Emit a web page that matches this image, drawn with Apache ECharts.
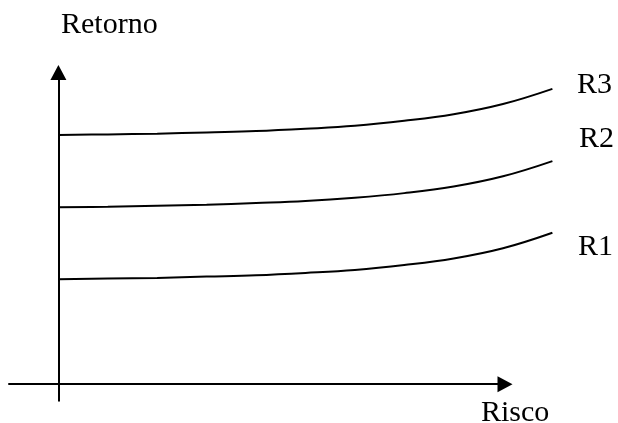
<!DOCTYPE html>
<html>
<head>
<meta charset="utf-8">
<script src="https://cdn.jsdelivr.net/npm/echarts@6/dist/echarts.min.js"></script>
<style>html,body{margin:0;padding:0;background:#fff}#c{width:618px;height:423px}</style>
</head>
<body>
<div id="c"></div>
<script>
// Risco (x) sample positions shared by the three curves
const risco = [0, 10, 20, 30, 40, 50, 60, 70, 80, 90, 100];
// Retorno (y) values
const r1 = [31.8, 32.0, 32.2, 32.6, 33.0, 33.7, 34.6, 36.1, 38.1, 41.2, 45.9];
const r2 = [53.6, 53.8, 54.1, 54.4, 54.9, 55.5, 56.5, 57.9, 59.9, 63.0, 67.6];
const r3 = [75.5, 75.7, 75.9, 76.3, 76.7, 77.4, 78.3, 79.8, 81.8, 84.9, 89.5];
const seriesNames = ['R1', 'R2', 'R3'];
const xTitle = 'Risco';
const yTitle = 'Retorno';

const FONT = '30px "Liberation Serif", "Times New Roman", serif';
const pair = (ys) => risco.map((x, i) => [x, ys[i]]);
const lineSeries = (name, ys) => ({
  name, type: 'line', data: pair(ys), smooth: 0.4, symbol: 'none',
  xAxisIndex: 0, yAxisIndex: 0,
  lineStyle: { color: '#000', width: 2 }, silent: true
});
const hiddenAxis = { show: false };
const arrowLine = { onZero: true, lineStyle: { color: '#000', width: 2 }, symbol: ['none', 'triangle'], symbolSize: [16, 15] };

const chart = echarts.init(document.getElementById('c'), null, { renderer: 'canvas' });
chart.setOption({
  animation: false,
  backgroundColor: '#fff',
  grid: [
    // plotting area of the curves
    { left: 58.4, right: 65.6, top: 72.5, bottom: 22.3, containLabel: false },
    // axes with arrows
    { left: 9, right: 113, top: 72.5, bottom: 22.3, containLabel: false }
  ],
  xAxis: [
    { gridIndex: 0, type: 'value', min: 0, max: 100, ...hiddenAxis },
    {
      gridIndex: 1, type: 'value', min: -10, max: 90.4,
      axisLine: arrowLine, axisTick: { show: false }, axisLabel: { show: false }, splitLine: { show: false }
    }
  ],
  yAxis: [
    { gridIndex: 0, type: 'value', min: -5, max: 94.45, ...hiddenAxis },
    {
      gridIndex: 1, type: 'value', min: -5, max: 94.45,
      axisLine: arrowLine, axisTick: { show: false }, axisLabel: { show: false }, splitLine: { show: false }
    }
  ],
  series: [lineSeries(seriesNames[0], r1), lineSeries(seriesNames[1], r2), lineSeries(seriesNames[2], r3)],
  graphic: [
    { type: 'text', style: { text: yTitle, x: 61, y: 25, font: FONT, fill: '#000', textVerticalAlign: 'middle' } },
    { type: 'text', style: { text: xTitle, x: 481, y: 413, font: FONT, fill: '#000', textVerticalAlign: 'middle' } },
    { type: 'text', style: { text: seriesNames[2], x: 577, y: 85, font: FONT, fill: '#000', textVerticalAlign: 'middle' } },
    { type: 'text', style: { text: seriesNames[1], x: 579, y: 139, font: FONT, fill: '#000', textVerticalAlign: 'middle' } },
    { type: 'text', style: { text: seriesNames[0], x: 578, y: 247, font: FONT, fill: '#000', textVerticalAlign: 'middle' } }
  ]
});
</script>
</body>
</html>
